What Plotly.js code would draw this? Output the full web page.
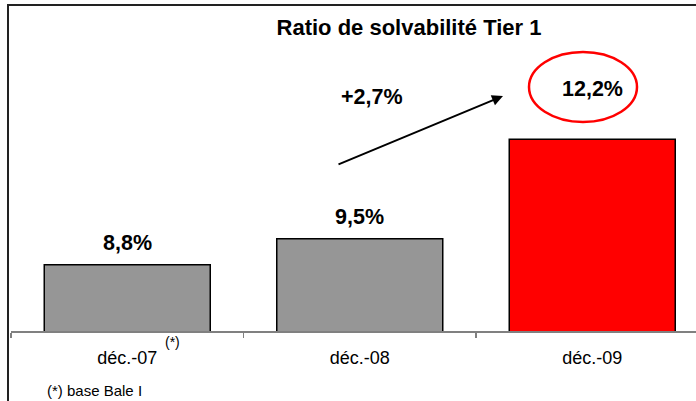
<!DOCTYPE html>
<html>
<head>
<meta charset="utf-8">
<script src="https://cdn.plot.ly/plotly-3.0.1.min.js"></script>
<style>html,body{margin:0;padding:0;background:#fff;}#chart{width:696px;height:401px;}</style>
</head>
<body>
<div id="chart"></div>
<script>
// ---- Data ----
const categories = ['déc.-07', 'déc.-08', 'déc.-09'];
const ratios = [8.8, 9.5, 12.2];
const barColors = ['#969696', '#969696', '#FF0000'];
const chartTitle = 'Ratio de solvabilité Tier 1';
const footnoteMark = '(*)';
const footnoteText = '(*) base Bale I';
const yRange = [7, 15];

// ---- Layout constants ----
const W = 696, H = 401;
const M = {l: 11, r: 0, t: 36, b: 70};
const plotW = W - M.l - M.r, plotH = H - M.t - M.b;
const px2x = p => (p - M.l) / plotW;      // page px -> paper x
const py2y = p => (H - M.b - p) / plotH;  // page py -> paper y
const FONT = 'Liberation Sans, Arial, sans-serif';
const fmt = v => v.toFixed(1).replace('.', ',') + '%';

const last = ratios.length - 1;
const growth = ratios[last] - ratios[last - 1];

const trace = {
  type: 'bar',
  x: categories,
  y: ratios,
  marker: {color: barColors, line: {color: '#000000', width: 1.5}},
  hoverinfo: 'none'
};

const annotations = [];
ratios.forEach((v, i) => {
  if (i === last) return;
  annotations.push({
    x: categories[i], y: v, xref: 'x', yref: 'y',
    text: '<b>' + fmt(v) + '</b>', showarrow: false,
    yanchor: 'middle', yshift: 22,
    font: {family: FONT, size: 21.5, color: '#000'}
  });
});
// highlighted last value inside ellipse
annotations.push({
  x: categories[last], y: ratios[last], xref: 'x', yref: 'y',
  text: '<b>' + fmt(ratios[last]) + '</b>', showarrow: false,
  yanchor: 'middle', yshift: 50,
  font: {family: FONT, size: 21.5, color: '#000'}
});
// growth label
annotations.push({
  x: px2x(372), y: py2y(97), xref: 'paper', yref: 'paper',
  text: '<b>+' + fmt(growth) + '</b>', showarrow: false,
  xanchor: 'center', yanchor: 'middle',
  font: {family: FONT, size: 21.5, color: '#000'}
});
// arrow
annotations.push({
  x: px2x(503), y: py2y(96), xref: 'paper', yref: 'paper',
  ax: 337 - 503, ay: 165 - 96, axref: 'pixel', ayref: 'pixel',
  text: '', showarrow: true, arrowhead: 2, arrowsize: 1.1, arrowwidth: 2, arrowcolor: '#000'
});
// footnote mark
annotations.push({
  x: px2x(172), y: py2y(342), xref: 'paper', yref: 'paper',
  text: footnoteMark, showarrow: false, xanchor: 'center', yanchor: 'middle',
  font: {family: FONT, size: 14, color: '#000'}
});
// footnote text
annotations.push({
  x: px2x(45), y: py2y(390), xref: 'paper', yref: 'paper',
  text: footnoteText, showarrow: false, xanchor: 'left', yanchor: 'middle',
  font: {family: FONT, size: 15, color: '#000'}
});

const shapes = [
  // frame left
  {type: 'line', xref: 'paper', yref: 'paper', x0: px2x(8), x1: px2x(8), y0: py2y(5), y1: py2y(H + 5),
   line: {color: '#222', width: 2}},
  // frame top
  {type: 'line', xref: 'paper', yref: 'paper', x0: px2x(7), x1: px2x(W + 5), y0: py2y(5), y1: py2y(5),
   line: {color: '#222', width: 2}},
  // ellipse around highlighted value
  {type: 'circle', xref: 'paper', yref: 'paper',
   x0: px2x(529), x1: px2x(637), y0: py2y(122), y1: py2y(52),
   line: {color: '#FF0000', width: 2.5}}
];

const layout = {
  width: W, height: H,
  margin: M,
  paper_bgcolor: '#fff', plot_bgcolor: '#fff',
  showlegend: false,
  bargap: 0.286,
  separators: ', ',
  title: {
    text: '<b>' + chartTitle + '</b>',
    x: px2x(409), xref: 'paper', xanchor: 'center',
    y: 1 - 27 / H, yref: 'container', yanchor: 'middle',
    font: {family: FONT, size: 22, color: '#000'}
  },
  xaxis: {
    type: 'category',
    range: [-0.5, -0.5 + plotW / 232.5],
    showline: true, linecolor: '#808080', linewidth: 2,
    ticks: 'outside', tickson: 'boundaries', ticklen: 5, tickcolor: '#808080', tickwidth: 1.5,
    ticklabelstandoff: 9,
    tickfont: {family: FONT, size: 18, color: '#000'},
    showgrid: false, zeroline: false, fixedrange: true
  },
  yaxis: {
    range: yRange, visible: false, showgrid: false, zeroline: false, fixedrange: true
  },
  annotations: annotations,
  shapes: shapes
};

Plotly.newPlot('chart', [trace], layout, {displayModeBar: false, staticPlot: true});
</script>
</body>
</html>
